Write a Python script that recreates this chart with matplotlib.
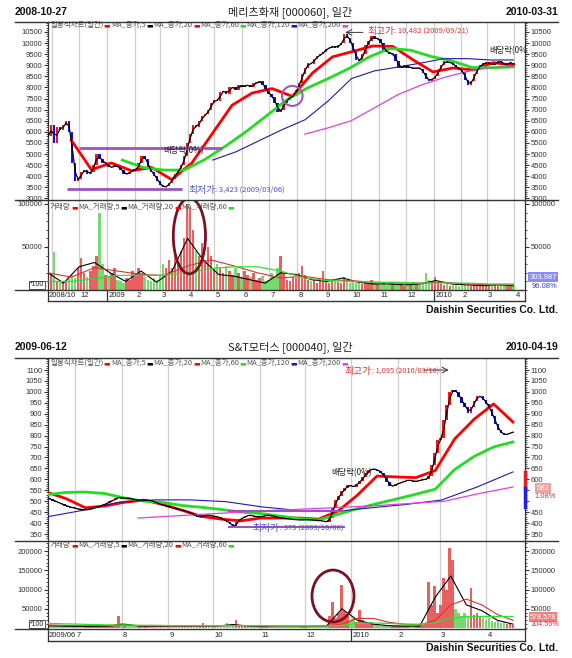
import matplotlib
matplotlib.use('Agg')
import matplotlib.pyplot as plt
import matplotlib.dates as mdates
from matplotlib.patches import Ellipse
from matplotlib.lines import Line2D
from matplotlib.ticker import MultipleLocator, FixedLocator
import numpy as np
import pandas as pd

KR = ['Noto Sans CJK KR', 'DejaVu Sans']
NAR = ['Liberation Sans Narrow', 'Liberation Sans', 'DejaVu Sans']
plt.rcParams['font.family'] = KR

# ---------------- DATA: chart 1 (메리츠화재) ----------------
top_title = '메리츠화재 [000060], 일간'
top_start, top_end = '2008-10-27', '2010-03-31'
top_close = [5800, 6300, 5500, 6200, 6100, 6300, 6500, 6000, 4600, 3800,
             3900, 4200, 4300, 4100, 4200, 4500, 5000, 4800, 4600, 4600,
             4400, 4400, 4500, 4400, 4300, 4100, 4100, 4200, 4300, 4300,
             4600, 4900, 4800, 4400, 4200, 4000, 3800, 3600, 3500, 3550,
             3700, 3900, 4100, 4300, 4500, 4900, 5500, 5900, 6300, 6200,
             6500, 6700, 6800, 7000, 7300, 7450, 7400, 7800, 7850, 7700,
             8000, 8000, 7900, 8100, 8000, 8100, 8100, 8000, 8200, 8200,
             8300, 8100, 7850, 7700, 7550, 7300, 6900, 7000, 7300, 7450,
             7600, 7600, 7900, 8200, 8600, 8900, 9100, 9050, 9300, 9400,
             9500, 9600, 9750, 9800, 9850, 9800, 9900, 10000, 10400, 10250,
             10000, 9600, 9250, 9200, 9500, 9900, 10100, 10300, 10200, 10200,
             10000, 9700, 9600, 9500, 9500, 9200, 8900, 8900, 9000, 8900,
             8900, 8850, 8900, 8850, 8650, 8400, 8300, 8400, 8500, 8800,
             9000, 9200, 9100, 9150, 9000, 8900, 8800, 8700, 8350, 8100,
             8300, 8600, 8900, 9000, 9100, 9100, 9100, 9000, 9100, 9200,
             9100, 9000, 9100, 9100, 9000]
top_vol_k = [12, 20, 44, 10, 12, 8, 10, 15, 18, 14,
             25, 37, 20, 15, 22, 28, 40, 90, 30, 18,
             15, 20, 25, 12, 10, 8, 14, 12, 22, 18,
             25, 20, 15, 12, 10, 14, 12, 18, 30, 25,
             35, 25, 40, 30, 45, 60, 100, 95, 70, 45,
             40, 55, 35, 50, 40, 25, 30, 25, 20, 28,
             22, 18, 25, 20, 15, 22, 18, 15, 20, 12,
             14, 16, 10, 12, 20, 15, 25, 40, 20, 12,
             10, 15, 14, 20, 28, 18, 12, 10, 12, 8,
             10, 22, 12, 8, 10, 12, 9, 8, 15, 10,
             8, 9, 8, 10, 7, 9, 8, 12, 8, 7,
             6, 9, 6, 7, 8, 6, 7, 6, 5, 7,
             6, 9, 7, 6, 8, 20, 12, 9, 15, 8,
             7, 6, 7, 5, 6, 7, 5, 6, 6, 8,
             5, 6, 5, 5, 6, 5, 6, 5, 7, 5,
             6, 5, 5, 6, 5]
top_ma20 = [5630, 4300, 4600, 4250, 4400, 3850, 4600, 5900, 7200, 7750, 7950, 7600,
            8650, 9380, 9620, 9870, 9850, 9250, 8700, 8880, 8790, 9120, 9000]
top_ma60 = [4730, 4400, 4280, 4280, 4750, 5350, 6000, 6720, 7450, 7980, 8400, 8850,
            9380, 9760, 9680, 9400, 9200, 8900, 8890, 8930]
top_ma120 = [4730, 5100, 5600, 6100, 6550, 7400, 8400, 8750, 8920, 9100, 9300, 9300, 9240, 9240]
top_ma200 = [5900, 6180, 6500, 7080, 7670, 8100, 8450, 8720, 8900, 8930]
top_ma_starts = ['2008-11-22', '2009-01-18', '2009-04-29', '2009-08-10']
top_vma5_k = [20, 8, 27, 32, 20, 10, 22, 9, 22, 60, 35, 18, 16, 12, 8, 20, 18, 12, 10, 14,
              9, 7, 7, 6, 7, 11, 7, 6, 5, 6, 5]
top_vma20_k = [20, 15, 26, 22, 18, 17, 28, 35, 28, 20, 14, 16, 12, 11, 9, 8, 8, 9, 7, 6, 6]
top_vma60_k = [10, 10, 13, 17, 17, 17, 20, 25, 27, 27, 22, 14, 11, 10, 9, 9, 8, 8, 8, 7, 7]
top_high = (10482, '2009-09-21')
top_low = (3423, '2009-03-06')
top_box_line = 5275

# ---------------- DATA: chart 2 (S&T모터스) ----------------
bot_title = 'S&T모터스 [000040], 일간'
bot_start, bot_end = '2009-06-12', '2010-04-19'
bot_close = [515, 508, 503, 498, 490, 485, 480, 475, 471, 468,
             465, 462, 460, 461, 463, 467, 471, 475, 480, 485,
             493, 500, 505, 515, 519, 512, 515, 514, 510, 507,
             505, 506, 505, 505, 503, 500, 494, 488, 483, 479,
             475, 472, 469, 465, 461, 457, 453, 449, 442, 435,
             428, 430, 433, 437, 434, 432, 430, 426, 419, 412,
             405, 395, 377, 405, 418, 425, 432, 437, 433, 430,
             428, 430, 433, 437, 434, 432, 428, 424, 423, 421,
             419, 417, 416, 415, 414, 415, 416, 415, 414, 413,
             412, 410, 408, 405, 425, 470, 505, 525, 545, 560,
             574, 568, 566, 580, 592, 610, 628, 643, 648, 645,
             640, 629, 610, 590, 568, 570, 578, 583, 588, 594,
             597, 594, 590, 593, 596, 598, 603, 615, 665, 720,
             780, 789, 870, 940, 1000, 1008, 1000, 975, 950, 930,
             903, 930, 958, 980, 980, 963, 945, 920, 890, 855,
             825, 810, 803, 808, 814, 818]
bot_vol_k = [8, 6, 5, 7, 4, 5, 6, 4, 3, 5,
             4, 3, 4, 5, 3, 4, 3, 5, 4, 6,
             4, 8, 6, 10, 30, 12, 8, 6, 5, 4,
             5, 6, 4, 5, 4, 3, 4, 3, 4, 3,
             4, 3, 4, 3, 5, 3, 4, 3, 4, 3,
             4, 6, 12, 5, 4, 3, 4, 3, 5, 4,
             12, 8, 6, 20, 8, 5, 4, 3, 4, 3,
             4, 3, 5, 3, 4, 3, 4, 3, 4, 3,
             5, 4, 3, 4, 3, 4, 3, 4, 3, 4,
             3, 5, 4, 8, 30, 68, 25, 40, 112, 45,
             30, 20, 25, 15, 47, 20, 12, 10, 15, 8,
             10, 6, 8, 5, 6, 5, 6, 4, 5, 6,
             4, 5, 6, 4, 5, 8, 10, 120, 60, 110,
             40, 60, 130, 100, 208, 177, 50, 40, 30, 40,
             30, 104, 35, 40, 30, 25, 20, 25, 18, 15,
             20, 12, 15, 10, 12, 8]
bot_ma20 = [542, 512, 470, 478, 495, 505, 485, 458, 430, 418, 410, 423, 423, 423, 418,
            455, 528, 615, 611, 608, 640, 785, 875, 945, 862]
bot_ma60 = [530, 540, 542, 535, 515, 500, 494, 480, 472, 462, 450, 444, 432, 420, 414,
            440, 466, 489, 510, 532, 555, 645, 705, 748, 771]
bot_ma120 = [428, 458, 495, 506, 506, 498, 474, 458, 452, 469, 485, 505, 565, 634]
bot_ma200 = [423, 432, 441, 450, 458, 465, 472, 480, 490, 500, 535, 565]
bot_ma_starts = ['2009-06-12', '2009-06-12', '2009-06-12', '2009-08-12']
bot_vma5_k = [6, 5, 4, 4, 5, 10, 5, 4, 4, 4, 5, 5, 9, 5, 4, 4, 4, 4, 5, 50,
              20, 10, 6, 5, 5, 80, 135, 60, 45, 20, 10]
bot_vma20_k = [8, 7, 6, 6, 6, 7, 6, 5, 5, 5, 5, 6, 6, 6, 5, 5, 5, 5, 5, 10,
               25, 25, 15, 10, 8, 20, 60, 75, 60, 35, 20]
bot_vma60_k = [12, 11, 10, 9, 8, 8, 7, 7, 6, 6, 6, 6, 6, 6, 6, 5, 5, 5, 5, 7,
               12, 13, 12, 10, 10, 14, 25, 30, 30, 30, 30]
bot_high = (1095, '2010-03-10')
bot_low = (375, '2009-10-08')
bot_box_lines = [455, 382]

# ---------------- FIGURE ----------------
W, H = 572, 658
fig = plt.figure(figsize=(W / 100, H / 100), dpi=100)
fig.patch.set_facecolor('white')
X0, X1 = 48, 525


def fx(x):
    return x / W


def fy(y):
    return 1 - y / H


def add_ax(x0, y0, x1, y1):
    return fig.add_axes([fx(x0), fy(y1), (x1 - x0) / W, (y1 - y0) / H])


def fline(xs, ys, color='#333333', lw=1.0, zorder=5):
    fig.add_artist(Line2D([fx(v) for v in xs], [fy(v) for v in ys], color=color, lw=lw,
                          transform=fig.transFigure, zorder=zorder))


def ftext(x, y, s, size=6, color='#333333', ha='left', va='center', family=KR, weight='normal', **kw):
    return fig.text(fx(x), fy(y), s, fontsize=size, color=color, ha=ha, va=va, family=family,
                    fontweight=weight, **kw)


def pieces(x, y, items):
    r = fig.canvas.get_renderer()
    for s, col, size in items:
        t = ftext(x, y, s, size=size, color=col)
        bb = t.get_window_extent(renderer=r)
        x = bb.x1 + 0.5


def style_axis(ax, left, right, ylim, major, minor, fmt_size=5.5):
    ax.set_xlim(left, right)
    ax.set_ylim(*ylim)
    ax.set_facecolor('white')
    for s in ['top', 'bottom']:
        ax.spines[s].set_visible(False)
    for s in ['left', 'right']:
        ax.spines[s].set_color('#333333')
        ax.spines[s].set_linewidth(0.9)
    ax.yaxis.set_major_locator(FixedLocator(major))
    ax.yaxis.set_minor_locator(MultipleLocator(minor))
    ax.tick_params(axis='y', which='both', left=True, right=True, labelleft=True, labelright=True,
                   direction='out', colors='#333333', labelsize=fmt_size, pad=1)
    ax.tick_params(axis='y', which='major', length=3, width=0.8)
    ax.tick_params(axis='y', which='minor', length=1.5, width=0.6)
    ax.yaxis.set_major_formatter(plt.FuncFormatter(lambda v, p: '%d' % v))
    for lab in ax.get_yticklabels():
        lab.set_family(NAR)
    ax.tick_params(axis='x', which='both', bottom=False, labelbottom=False, length=0)


def hide_right_labels(ax, values):
    fig.canvas.draw()
    for t in ax.yaxis.get_major_ticks():
        if round(t.get_loc()) in values:
            t.label2.set_visible(False)


def draw_chart(rows, title, start, end, left_d, right_d, closes, vols_k, mas, ma_starts,
               vmas, plim, pmajor, pminor, vlim, vmajor, vminor, cw, first_label):
    yh, yt, ym, yv, yd, ydai = rows
    left, right = pd.Timestamp(left_d), pd.Timestamp(right_d)
    ln, rn = mdates.date2num(left), mdates.date2num(right)

    def xpx(d):
        return X0 + (mdates.date2num(pd.Timestamp(d)) - ln) / (rn - ln) * (X1 - X0)

    # header
    ftext(15, yh, start, size=7.5, color='#111111', family=NAR, weight='bold')
    ftext(558, yh, end, size=7.5, color='#111111', family=NAR, weight='bold', ha='right')
    ftext(290, yh, title, size=8, color='#222222', ha='center')
    fline([15, 558], [yt, yt], lw=1.0)
    fline([15, 558], [ym, ym], lw=1.0)
    fline([15, X1], [yv, yv], lw=1.0)
    fline([X0, X1], [yd, yd], lw=1.0)
    fline([X0, X0], [yv, yd], lw=0.9)
    fline([X1, X1], [yv, yd], lw=0.9)
    ftext(558, ydai, 'Daishin Securities Co. Ltd.', size=7.5, color='#111111', family=NAR,
          weight='bold', ha='right')

    months = pd.date_range(left, right, freq='MS')

    # ---- price panel
    ax = add_ax(X0, yt, X1, ym)
    style_axis(ax, left, right, plim, pmajor, pminor)
    for m in months:
        ax.axvline(m, color='#cfcfcf', lw=0.9, zorder=0)
    c = np.array(closes, float)
    d = pd.date_range(start, end, periods=len(c))
    o = np.r_[c[0], c[:-1]]
    up = c >= o
    lo = np.minimum(o, c)
    hgt = np.maximum(np.abs(c - o), (plim[1] - plim[0]) * 0.004)
    ax.bar(d, hgt, bottom=lo, width=cw, color=np.where(up, '#ff1010', '#1010ff'), linewidth=0, zorder=3)
    ma_cols = [('#ff0000', 2.0), ('#22dd22', 2.0), ('#1a1ab0', 0.8), ('#e040e0', 0.9)]
    for vals, s, (col, lw) in zip(mas, ma_starts, ma_cols):
        ax.plot(pd.date_range(s, end, periods=len(vals)), vals, color=col, lw=lw, zorder=4)
    ma5 = pd.Series(c).rolling(2, min_periods=1).mean().values
    ax.plot(d, ma5, color='black', lw=0.9, zorder=5)

    # ---- volume panel
    av = add_ax(X0, ym, X1, yv)
    style_axis(av, left, right, vlim, vmajor, vminor)
    for m in months:
        av.axvline(m, color='#cfcfcf', lw=0.9, zorder=0)
    v = np.array(vols_k, float) * 1000
    dv = pd.date_range(start, end, periods=len(v))
    n = min(len(v), len(up))
    vup = np.r_[up[:n], np.ones(len(v) - n, bool)]
    av.bar(dv, v, width=cw, color=np.where(vup, '#e8605f', '#74dc6e'), linewidth=0, zorder=2)
    for vals, col, lw in zip(vmas, ['black', '#e03030', '#33dd33'], [0.8, 0.8, 0.9]):
        vv = np.array(vals, float) * 1000
        av.plot(pd.date_range(start, end, periods=len(vv)), vv, color=col, lw=lw, zorder=4)

    # ---- date row
    yl = (yv + yd) / 2 + 0.5
    ftext(X0 + 1, yl, first_label, size=5.5, family=NAR, color='#222222')
    for m in months:
        xp = xpx(m)
        if xp - X0 < 20:
            continue
        lab = str(m.year) if m.month == 1 else str(m.month)
        if m.month == 1:
            fline([xp, xp], [yv, yd], lw=0.9)
        ftext(xp + 1.5, yl, lab, size=5.5, family=NAR, color='#222222')
    ftext(37, yv - 5, '*100', size=5, family=NAR, color='#222222', ha='center',
          bbox=dict(boxstyle='square,pad=0.12', fc='white', ec='#333333', lw=0.6))
    return ax, av, xpx


LEG_P = 5.4
price_legend = [('일봉식차트(일간)', '#555555', LEG_P), ('▬', '#ff0000', 5), ('MA_종가,5', '#555555', LEG_P),
                ('▬', 'black', 5), ('MA_종가,20', '#555555', LEG_P), ('▬', '#ff0000', 5),
                ('MA_종가,60', '#555555', LEG_P), ('▬', '#22dd22', 5), ('MA_종가,120', '#555555', LEG_P),
                ('▬', '#1a1ab0', 5), ('MA_종가,200', '#555555', LEG_P), ('▬', '#e040e0', 5)]
vol_legend = [('거래량', '#555555', LEG_P), ('▬', '#ff0000', 5), ('MA_거래량,5', '#555555', LEG_P),
              ('▬', 'black', 5), ('MA_거래량,20', '#555555', LEG_P), ('▬', '#ff0000', 5),
              ('MA_거래량,60', '#555555', LEG_P), ('▬', '#22dd22', 5)]

# ---------------- chart 1 ----------------
ax1, av1, xp1 = draw_chart((12, 22, 200, 290, 301, 310), top_title, top_start, top_end,
                           '2008-10-27', '2010-04-13', top_close, top_vol_k,
                           [top_ma20, top_ma60, top_ma120, top_ma200], top_ma_starts,
                           [top_vma5_k, top_vma20_k, top_vma60_k],
                           (2932, 10950), list(range(3000, 10501, 500)), 100,
                           (0, 104650), [50000, 100000], 10000, 2.7, '2008/10')

pieces(50, 25, price_legend)
pieces(50, 207, vol_legend)

hv, hd = top_high
lv, ld = top_low
ax1.annotate('', xy=(pd.Timestamp(hd), hv), xytext=(pd.Timestamp('2009-10-17'), hv),
             arrowprops=dict(arrowstyle='->', color='#333333', lw=0.7), zorder=6)
pieces(367, 31, [('최고가', '#e03030', 7), (': 10,482 (2009/09/21)', '#e03030', 5.5)])
ax1.hlines(top_box_line, pd.Timestamp('2008-12-01'), pd.Timestamp('2009-05-09'), color='#a050c0', lw=2, zorder=6)
ax1.hlines(lv, pd.Timestamp('2008-11-17'), pd.Timestamp('2009-03-26'), color='#a050c0', lw=2, zorder=6)
pieces(188, 190, [('최저가', '#5050c8', 7), (': 3,423 (2009/03/06)', '#5050c8', 5.5)])
ftext(163, 151, '배당락(0%)', size=6, color='#222222')
ftext(489, 51, '배당락(0%', size=6, color='#222222')
ax1.add_patch(Ellipse((mdates.date2num(pd.Timestamp('2009-07-27')), 7620), 23, 900, fill=False,
                      ec='#9a5ab8', lw=1.5, zorder=7))
av1.add_patch(Ellipse((mdates.date2num(pd.Timestamp('2009-04-03')), 62800), 36, 88000, fill=False,
                      ec='#7a1020', lw=2, zorder=7))
ftext(543, 277, '303,987', size=5.5, family=NAR, color='white', ha='center',
      bbox=dict(boxstyle='square,pad=0.2', fc='#8c8cf0', ec='none'))
ftext(545, 286, '96.08%', size=5.5, family=NAR, color='#3a3ad0', ha='center')

# ---------------- chart 2 ----------------
ax2, av2, xp2 = draw_chart((347, 358, 541, 629, 641, 648), bot_title, bot_start, bot_end,
                           '2009-06-13', '2010-04-27', bot_close, bot_vol_k,
                           [bot_ma20, bot_ma60, bot_ma120, bot_ma200], bot_ma_starts,
                           [bot_vma5_k, bot_vma20_k, bot_vma60_k],
                           (318, 1155), list(range(350, 1101, 50)), 10,
                           (-2600, 226000), [50000, 100000, 150000, 200000], 10000, 1.8, '2009/06')

pieces(50, 363, price_legend)
pieces(50, 545, vol_legend)

hv, hd = bot_high
lv, ld = bot_low
ax2.annotate('', xy=(pd.Timestamp('2010-03-09'), 1100), xytext=(pd.Timestamp('2010-02-17'), 1100),
             arrowprops=dict(arrowstyle='->', color='#333333', lw=0.7), zorder=6)
pieces(344, 371, [('최고가', '#e03030', 7), (': 1,095 (2010/03/10)', '#e03030', 5.3)])
for yv_ in bot_box_lines:
    ax2.hlines(yv_, pd.Timestamp('2009-10-11'), pd.Timestamp('2009-12-28'), color='#a050c0', lw=1.5, zorder=6)
pieces(252, 528, [('최저가', '#5050c8', 7), (': 375 (2009/10/08)', '#5050c8', 5.5)])
ftext(331, 473, '배당락(0%)', size=6, color='#222222')
av2.add_patch(Ellipse((mdates.date2num(pd.Timestamp('2009-12-20')), 83000), 28, 135000, fill=False,
                      ec='#7a1020', lw=2, zorder=7))
fline([525, 525], [472, 488], color='#e02020', lw=2.5, zorder=8)
fline([525, 525], [488, 507], color='#2020e0', lw=2.5, zorder=8)

# the current-price boxes cover these right-hand tick labels in the reference
hide_right_labels(ax2, {500, 550})

ftext(543, 488, '582', size=5.5, family=NAR, color='white', ha='center',
      bbox=dict(boxstyle='square,pad=0.2', fc='#f2a0a0', ec='none'))
ftext(545, 497, '1.08%', size=5.5, family=NAR, color='#e03030', ha='center')
ftext(543, 617, '578,578', size=5.2, family=NAR, color='white', ha='center',
      bbox=dict(boxstyle='square,pad=0.15', fc='#f08080', ec='none'))
ftext(545, 625, '104.56%', size=5.2, family=NAR, color='#e03030', ha='center')

fig.savefig('out.png', dpi=100, facecolor='white')
